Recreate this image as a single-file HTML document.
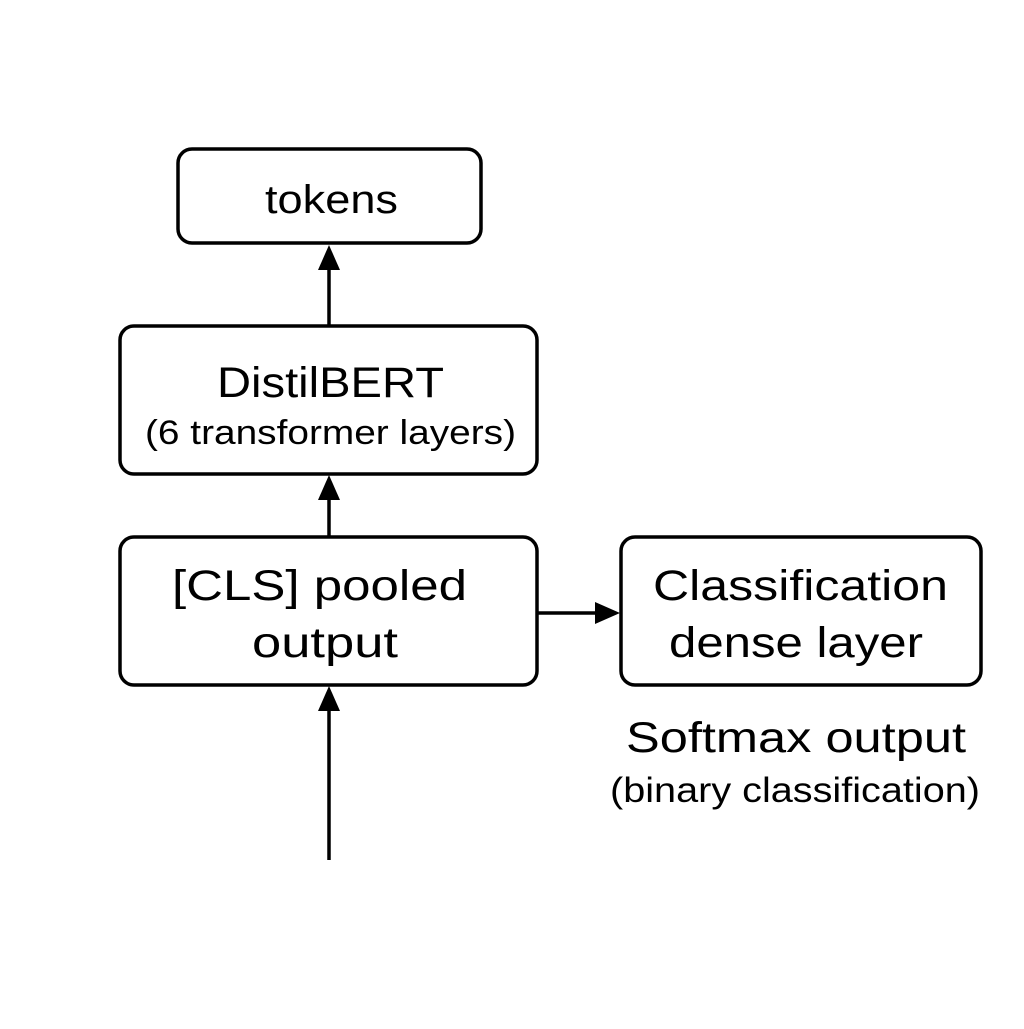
<!DOCTYPE html>
<html><head><style>html,body{margin:0;padding:0;background:#fff}</style></head><body>
<svg width="1024" height="1024" viewBox="0 0 1024 1024" xmlns="http://www.w3.org/2000/svg" font-family="Liberation Sans, sans-serif" fill="#000">
<g fill="none" stroke="#000" stroke-width="3.5">
<rect x="178" y="149" width="303" height="94" rx="14"/>
<rect x="120" y="326" width="417" height="148" rx="14"/>
<rect x="120" y="537" width="417" height="148" rx="14"/>
<rect x="621" y="537" width="360" height="148" rx="14"/>
<line x1="329" y1="326" x2="329" y2="268"/>
<line x1="329" y1="537" x2="329" y2="498"/>
<line x1="329" y1="860" x2="329" y2="708"/>
<line x1="537" y1="613" x2="598" y2="613"/>
</g>
<polygon points="329,245 318,270 340,270"/>
<polygon points="329,475 318,500 340,500"/>
<polygon points="329,686 318,711 340,711"/>
<polygon points="620,613 595,602 595,624"/>
<g lengthAdjust="spacingAndGlyphs">
<text x="265" y="213" font-size="40" textLength="133" lengthAdjust="spacingAndGlyphs">tokens</text>
<text x="217" y="397" font-size="43" textLength="227" lengthAdjust="spacingAndGlyphs">DistilBERT</text>
<text x="145" y="444" font-size="34" textLength="371" lengthAdjust="spacingAndGlyphs">(6 transformer layers)</text>
<text x="172" y="600" font-size="43" textLength="295" lengthAdjust="spacingAndGlyphs">[CLS] pooled</text>
<text x="252" y="657" font-size="43" textLength="146" lengthAdjust="spacingAndGlyphs">output</text>
<text x="653" y="600" font-size="43" textLength="295" lengthAdjust="spacingAndGlyphs">Classification</text>
<text x="669" y="657" font-size="43" textLength="254" lengthAdjust="spacingAndGlyphs">dense layer</text>
<text x="626" y="752" font-size="43" textLength="340" lengthAdjust="spacingAndGlyphs">Softmax output</text>
<text x="610" y="802" font-size="35" textLength="370" lengthAdjust="spacingAndGlyphs">(binary classification)</text>
</g>
</svg>
</body></html>
